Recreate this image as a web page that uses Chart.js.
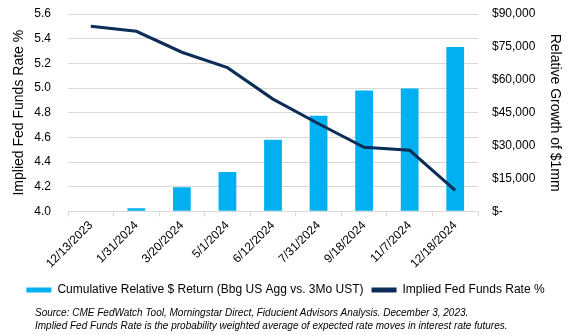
<!DOCTYPE html>
<html>
<head>
<meta charset="utf-8">
<script src="https://cdn.jsdelivr.net/npm/chart.js@4.4.1/dist/chart.umd.min.js"></script>
<style>
  body { margin: 0; background: #fff; }
  #wrap { position: relative; width: 571px; height: 335px; }
  #source {
    position: absolute; left: 35px; top: 306px;
    font-family: "Liberation Sans", Arial, sans-serif;
    font-style: italic; font-size: 10px; line-height: 13px; color: #000;
    white-space: nowrap;
  }
</style>
</head>
<body>
<div id="wrap">
  <canvas id="chart" width="571" height="335"></canvas>
  <div id="source">Source: CME FedWatch Tool, Morningstar Direct, Fiducient Advisors Analysis. December 3, 2023.<br>Implied Fed Funds Rate is the probability weighted average of expected rate moves in interest rate futures.</div>
</div>
<script>
const meetings = ["12/13/2023", "1/31/2024", "3/20/2024", "5/1/2024", "6/12/2024", "7/31/2024", "9/18/2024", "11/7/2024", "12/18/2024"];
const impliedRate = [5.50, 5.46, 5.29, 5.165, 4.91, 4.71, 4.52, 4.495, 4.17];
const relativeReturn = [0, 1400, 11000, 17900, 32600, 43600, 55100, 56000, 74900];
const rateTicks = [4.0, 4.2, 4.4, 4.6, 4.8, 5.0, 5.2, 5.4, 5.6];
const dollarTicks = [0, 15000, 30000, 45000, 60000, 75000, 90000];

Chart.defaults.font.family = '"Liberation Sans", Arial, sans-serif';
Chart.defaults.font.size = 12;
Chart.defaults.color = "#000";

const gridColor = "#d9d9d9";

// pin the y axes: fixed width, no extra top padding
function pinAxis(width) {
    return function (s) {
        s.width = width;
        s.paddingTop = 0;
        s.paddingBottom = 0;
    };
}

const chart = new Chart(document.getElementById("chart"), {
    data: {
        labels: meetings,
        datasets: [{
            type: "line",
            label: "Implied Fed Funds Rate %",
            data: impliedRate,
            yAxisID: "yRate",
            borderColor: "#0c2d57",
            backgroundColor: "#0c2d57",
            borderWidth: 3,
            pointRadius: 0,
            tension: 0,
            order: 0
        }, {
            type: "bar",
            label: "Cumulative Relative $ Return (Bbg US Agg vs. 3Mo UST)",
            data: relativeReturn,
            yAxisID: "yDollar",
            backgroundColor: "#00b0f0",
            categoryPercentage: 1,
            barPercentage: 0.39,
            order: 1
        }]
    },
    options: {
        responsive: false,
        devicePixelRatio: 1,
        animation: false,
        layout: { padding: { top: 14, bottom: 29, left: 0, right: 0 } },
        plugins: {
            tooltip: { enabled: false },
            legend: {
                position: "bottom",
                reverse: true,
                labels: {
                    boxWidth: 25,
                    boxHeight: 5,
                    padding: 8,
                    font: { size: 12 },
                    generateLabels: function (c) {
                        return c.data.datasets.map(function (ds, i) {
                            return {
                                text: ds.label,
                                fillStyle: ds.type === "bar" ? ds.backgroundColor : ds.borderColor,
                                strokeStyle: ds.type === "bar" ? ds.backgroundColor : ds.borderColor,
                                lineWidth: 0,
                                datasetIndex: i
                            };
                        });
                    }
                }
            }
        },
        scales: {
            x: {
                offset: true,
                afterFit: function (s) { s.height += 3; },
                grid: { offset: true, drawOnChartArea: false, color: gridColor, tickLength: 5 },
                border: { color: gridColor },
                ticks: { minRotation: 45, maxRotation: 45, padding: 2 }
            },
            yRate: {
                position: "left",
                min: 4.0,
                max: 5.6,
                afterBuildTicks: function (s) { s.ticks = rateTicks.map(v => ({ value: v })); },
                afterFit: pinAxis(68),
                grid: { color: gridColor, drawTicks: false },
                border: { display: false },
                ticks: { padding: 17, callback: v => v.toFixed(1) },
                title: { display: true, text: "Implied Fed Funds Rate %", font: { size: 14 }, padding: { top: 11, bottom: 0 } }
            },
            yDollar: {
                position: "right",
                min: 0,
                max: 90000,
                afterBuildTicks: function (s) { s.ticks = dollarTicks.map(v => ({ value: v })); },
                afterFit: pinAxis(93),
                grid: { drawOnChartArea: false, drawTicks: false },
                border: { display: false },
                ticks: {
                    padding: 14,
                    callback: v => v === 0 ? "$-" : "$" + v.toLocaleString("en-US")
                },
                title: { display: true, text: "Relative Growth of $1mm", font: { size: 14 }, padding: { top: 8, bottom: 0 } }
            }
        }
    }
});
</script>
</body>
</html>
